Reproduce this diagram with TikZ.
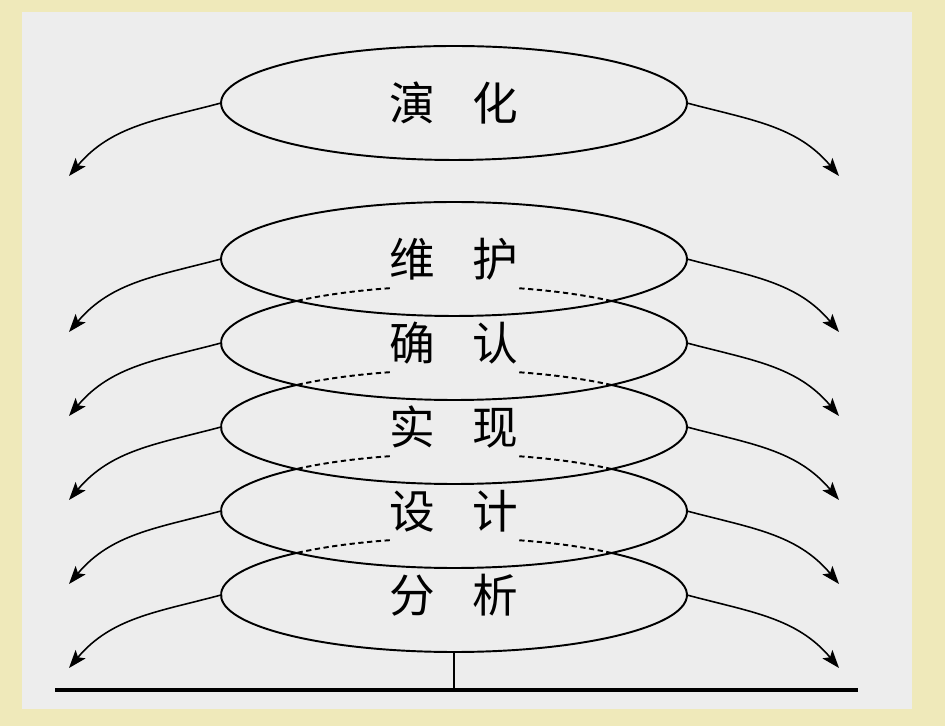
\documentclass[tikz,border=0pt]{standalone}
\usepackage{fontspec}
\newfontfamily\cjk{Noto Sans CJK SC}
\usetikzlibrary{arrows.meta,shapes.geometric}
\definecolor{frame}{HTML}{EFE9BA}
\definecolor{panel}{HTML}{EDEDED}

\begin{document}
\begin{tikzpicture}[x=0.02cm, y=0.02cm, every node/.style={font=\cjk\fontsize{26}{26}\selectfont}, >={Stealth[length=3.6mm, width=2.6mm, inset=0.8mm]},
	stage/.style={ellipse, minimum width=9.32cm, minimum height=2.28cm, inner sep=0pt, outer sep=0pt},
	rim/.style={line width=1.1pt},
	hidden/.style={line width=1.1pt, dash pattern=on 3pt off 2pt},
	flow/.style={->, line width=0.9pt}]
	\fill[frame] (0,0) rectangle (945,726);
	\fill[panel] (22,17) rectangle (912,714);
	% stages, top to bottom
	\node[stage, draw, rim] (yh) at (454,623) {演\hspace{0.75cm}化};
	\node[stage, draw, rim] (wh) at (454,467) {维\hspace{0.75cm}护};
	\node[stage] (qr) at (454,383) {确\hspace{0.75cm}认};
	\node[stage] (sx) at (454,299) {实\hspace{0.75cm}现};
	\node[stage] (sj) at (454,215) {设\hspace{0.75cm}计};
	\node[stage] (fx) at (454,131) {分\hspace{0.75cm}析};
	% outlines of the lower stages, hidden part dashed
	\draw[rim] (qr.center) ++(132.5:233 and 57) arc[start angle=132.5, end angle=407.5, x radius=233, y radius=57];
	\draw[hidden] (qr.center) ++(47.5:233 and 57) arc[start angle=47.5, end angle=74, x radius=233, y radius=57];
	\draw[hidden] (qr.center) ++(106:233 and 57) arc[start angle=106, end angle=132.5, x radius=233, y radius=57];
	\draw[rim] (sx.center) ++(132.5:233 and 57) arc[start angle=132.5, end angle=407.5, x radius=233, y radius=57];
	\draw[hidden] (sx.center) ++(47.5:233 and 57) arc[start angle=47.5, end angle=74, x radius=233, y radius=57];
	\draw[hidden] (sx.center) ++(106:233 and 57) arc[start angle=106, end angle=132.5, x radius=233, y radius=57];
	\draw[rim] (sj.center) ++(132.5:233 and 57) arc[start angle=132.5, end angle=407.5, x radius=233, y radius=57];
	\draw[hidden] (sj.center) ++(47.5:233 and 57) arc[start angle=47.5, end angle=74, x radius=233, y radius=57];
	\draw[hidden] (sj.center) ++(106:233 and 57) arc[start angle=106, end angle=132.5, x radius=233, y radius=57];
	\draw[rim] (fx.center) ++(132.5:233 and 57) arc[start angle=132.5, end angle=407.5, x radius=233, y radius=57];
	\draw[hidden] (fx.center) ++(47.5:233 and 57) arc[start angle=47.5, end angle=74, x radius=233, y radius=57];
	\draw[hidden] (fx.center) ++(106:233 and 57) arc[start angle=106, end angle=132.5, x radius=233, y radius=57];
	% arrow ends
	\coordinate (yhL) at (69,550);  \coordinate (yhR) at (839,550);
	\coordinate (whL) at (69,394);  \coordinate (whR) at (839,394);
	\coordinate (qrL) at (69,310);  \coordinate (qrR) at (839,310);
	\coordinate (sxL) at (69,226);  \coordinate (sxR) at (839,226);
	\coordinate (sjL) at (69,142);  \coordinate (sjR) at (839,142);
	\coordinate (fxL) at (69,58);   \coordinate (fxR) at (839,58);
	\draw[flow] (yh.west) to[out=195, in=50] (yhL);
	\draw[flow] (yh.east) to[out=-15, in=130] (yhR);
	\draw[flow] (wh.west) to[out=195, in=50] (whL);
	\draw[flow] (wh.east) to[out=-15, in=130] (whR);
	\draw[flow] (qr.west) to[out=195, in=50] (qrL);
	\draw[flow] (qr.east) to[out=-15, in=130] (qrR);
	\draw[flow] (sx.west) to[out=195, in=50] (sxL);
	\draw[flow] (sx.east) to[out=-15, in=130] (sxR);
	\draw[flow] (sj.west) to[out=195, in=50] (sjL);
	\draw[flow] (sj.east) to[out=-15, in=130] (sjR);
	\draw[flow] (fx.west) to[out=195, in=50] (fxL);
	\draw[flow] (fx.east) to[out=-15, in=130] (fxR);
	% base
	\coordinate (baseL) at (55,36);
	\coordinate (baseR) at (858,36);
	\draw[line width=2.2pt] (baseL) -- (baseR);
	\draw[rim] (fx.south) -- (fx.south |- baseL);
\end{tikzpicture}
\end{document}
